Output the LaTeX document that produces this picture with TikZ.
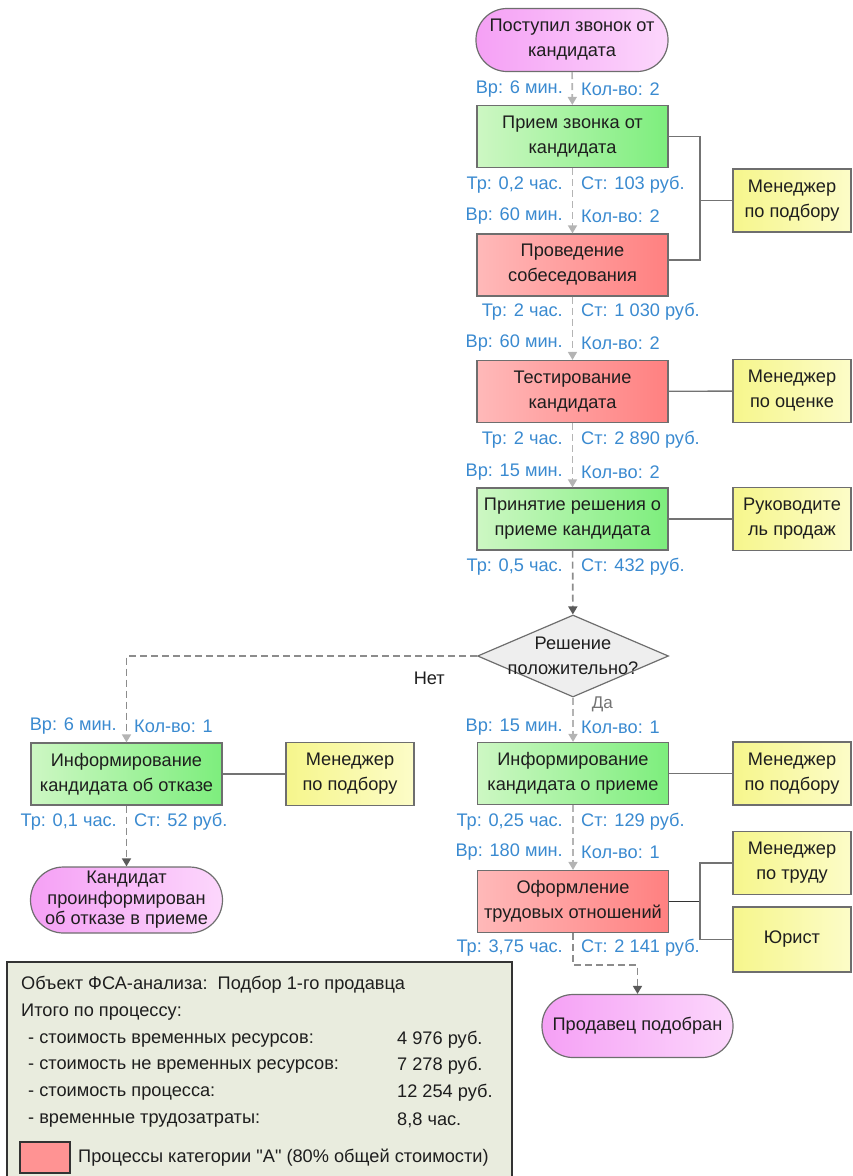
\documentclass[tikz,border=0pt]{standalone}
\usepackage{fontspec}
\setmainfont{Liberation Sans}[Ligatures=TeXOff]
\usetikzlibrary{shapes.geometric,arrows.meta}
\definecolor{lblue}{RGB}{58,138,208}
\definecolor{txt}{RGB}{30,30,30}
\definecolor{bord}{RGB}{110,110,110}
\definecolor{gL}{RGB}{205,247,195}
\definecolor{gR}{RGB}{125,238,125}
\definecolor{rL}{RGB}{255,185,185}
\definecolor{rR}{RGB}{255,128,128}
\definecolor{yL}{RGB}{246,246,140}
\definecolor{yR}{RGB}{252,252,200}
\definecolor{mL}{RGB}{245,160,245}
\definecolor{mR}{RGB}{252,215,252}
\definecolor{dgray}{RGB}{238,238,238}
\definecolor{lgbg}{RGB}{233,236,222}
\definecolor{flowc}{RGB}{180,180,180}
\definecolor{flowd}{RGB}{140,140,140}
\definecolor{tipd}{RGB}{90,90,90}
\newcommand\myfs{\fontsize{18.2}{25}\selectfont}
\tikzset{
  x=1pt, y=-1pt,
  every node/.style={text=txt, font=\myfs, inner sep=0pt},
  box/.style={draw=bord, line width=1.2pt, minimum width=191pt, minimum height=62pt, align=center},
  pgreen/.style={box, left color=gL, right color=gR},
  pred/.style={box, left color=rL, right color=rR},
  resbox/.style={box, left color=yL, right color=yR, minimum width=118pt, minimum height=63pt},
  term/.style={draw=bord, line width=1.2pt, minimum width=192pt, minimum height=63pt, rounded corners=31pt, align=center, left color=mL, right color=mR},
  decis/.style={diamond, draw=bord, line width=1.2pt, fill=dgray, minimum width=191pt, minimum height=82pt, aspect=2.3},
  labl/.style={text=lblue, anchor=east},
  labr/.style={text=lblue, anchor=west},
  flow/.style={draw=flowc, line width=1.6pt, dash pattern=on 7pt off 4pt, -{Triangle[length=8pt,width=9pt,color=flowc]}},
  flowdark/.style={draw=flowd, line width=1.6pt, dash pattern=on 7pt off 4pt, -{Triangle[length=8pt,width=9pt,color=tipd]}},
  resline/.style={draw=black!55, line width=1.4pt},
}
\begin{document}
\begin{tikzpicture}
\useasboundingbox (0,0) rectangle (852,1176);
% main column
\node[term] (start) at (572,40) {Поступил звонок от\\кандидата};
\node[pgreen] (p1) at (572.5,136.5) {Прием звонка от\\кандидата};
\node[pred] (p2) at (572.5,265) {Проведение\\собеседования};
\node[pred] (p3) at (572.5,391.5) {Тестирование\\кандидата};
\node[pgreen] (p4) at (572.5,519) {Принятие решения о\\приеме кандидата};
\node[decis] (d) at (573,656) {};
\node[align=center] (dt) at (573,656) {Решение\\положительно?};
\node[pgreen] (p5) at (573,773.5) {Информирование\\кандидата о приеме};
\node[pred] (p6) at (573,901.5) {Оформление\\трудовых отношений};
\node[term, minimum width=191pt] (e2) at (637.5,1026) {Продавец подобран};
% left branch
\node[pgreen] (q5) at (126.5,774) {Информирование\\кандидата об отказе};
\node[term, minimum height=66pt, rounded corners=33pt, font=\fontsize{18.2}{20.5}\selectfont] (e1) at (126.5,900) {Кандидат\\проинформирован\\об отказе в приеме};
% resources
\node[resbox] (r1) at (792,200.5) {Менеджер\\по подбору};
\node[resbox] (r2) at (792,391) {Менеджер\\по оценке};
\node[resbox] (r3) at (792,519) {Руководите\\ль продаж};
\node[resbox] (r4) at (792,773.5) {Менеджер\\по подбору};
\node[resbox] (r5) at (792,863) {Менеджер\\по труду};
\node[resbox, minimum height=65pt] (r6) at (792,939.5) {Юрист};
\node[resbox, minimum width=128pt] (rl) at (350,774) {Менеджер\\по подбору};
% flows
\draw[flow] (start) -- (p1);
\draw[flow] (p1) -- (p2);
\draw[flow] (p2) -- (p3);
\draw[flow] (p3) -- (p4);
\draw[flowdark] (p4) -- (d);
\draw[flow] (d.south) -- node[pos=0.16, anchor=west, xshift=18pt, text=black!55, font=\fontsize{17}{20}\selectfont] (da) {Да} (p5.north);
\draw[flowdark, -{Triangle[length=8pt,width=9pt,color=flowc]}] (d.west) -| node[pos=0.068, yshift=-22pt] (net) {Нет} (q5.north);
\draw[flow] (p5) -- (p6);
\draw[flowdark] (p6.south) -- ++(0,32) -| (e2.north);
\draw[flowdark] (q5) -- (e1);
% resource links
\coordinate (j1) at (700,200.5);
\coordinate (j2) at (700,260);
\draw[resline] (p1.east) -| (j1) -- (j2) -- (j2 -| p2.east);
\draw[resline] (j1) -- (r1.west);
\draw[resline] (p3) -- (r2);
\draw[resline] (p4) -- (r3);
\draw[resline] (p5) -- (r4);
\draw[resline] (q5) -- (rl);
\coordinate (j6) at (700,901.5);
\draw[resline, draw=black!80] (p6.east) -- (j6);
\draw[resline] (r5.west) -| (j6) |- (r6.west);
% labels
\node[labl] (a1) at (563,89) {Вр: 6 мин.};
\node[labr] (b1) at (581,89) {Кол-во: 2};
\node[labl] (c1) at (563,185) {Тр: 0,2 час.};
\node[labr] (d1) at (581,185) {Ст: 103 руб.};
\node[labl] (a2) at (563,216) {Вр: 60 мин.};
\node[labr] (b2) at (581,216) {Кол-во: 2};
\node[labl] (c2) at (563,312) {Тр: 2 час.};
\node[labr] (d2) at (581,312) {Ст: 1 030 руб.};
\node[labl] (a3) at (563,343) {Вр: 60 мин.};
\node[labr] (b3) at (581,343) {Кол-во: 2};
\node[labl] (c3) at (563,440) {Тр: 2 час.};
\node[labr] (d3) at (581,440) {Ст: 2 890 руб.};
\node[labl] (a4) at (563,472) {Вр: 15 мин.};
\node[labr] (b4) at (581,472) {Кол-во: 2};
\node[labl] (c4) at (563,567) {Тр: 0,5 час.};
\node[labr] (d4) at (581,567) {Ст: 432 руб.};
\node[labl] (a5) at (563,727) {Вр: 15 мин.};
\node[labr] (b5) at (581,727) {Кол-во: 1};
\node[labl] (c5) at (563,822) {Тр: 0,25 час.};
\node[labr] (d5) at (581,822) {Ст: 129 руб.};
\node[labl] (a6) at (563,852) {Вр: 180 мин.};
\node[labr] (b6) at (581,852) {Кол-во: 1};
\node[labl] (c6) at (563,948) {Тр: 3,75 час.};
\node[labr] (d6) at (581,948) {Ст: 2 141 руб.};
\node[labl] (la) at (117,726) {Вр: 6 мин.};
\node[labr] (lb) at (134,726) {Кол-во: 1};
\node[labl] (lc) at (117,822) {Тр: 0,1 час.};
\node[labr] (ld) at (134,822) {Ст: 52 руб.};
% legend
\draw[draw=black!80, line width=1.5pt, fill=lgbg] (7,962) rectangle (512,1190);
\node[anchor=west] (g1) at (21,985) {Объект ФСА-анализа:\ \ Подбор 1-го продавца};
\node[anchor=west] (g2) at (21,1012) {Итого по процессу:};
\node[anchor=west] (g3) at (28,1040) {- стоимость временных ресурсов:};
\node[anchor=west] (g4) at (28,1066) {- стоимость не временных ресурсов:};
\node[anchor=west] (g5) at (28,1093) {- стоимость процесса:};
\node[anchor=west] (g6) at (28,1120) {- временные трудозатраты:};
\node[anchor=west] (v3) at (397,1040) {4 976 руб.};
\node[anchor=west] (v4) at (397,1066) {7 278 руб.};
\node[anchor=west] (v5) at (397,1093) {12 254 руб.};
\node[anchor=west] (v6) at (397,1120) {8,8 час.};
\draw[draw=black!80, line width=1.3pt, fill=rR!85!white] (20,1142) rectangle (70,1173);
\node[anchor=west] (g7) at (78,1158) {Процессы категории "А" (80\% общей стоимости)};
\end{tikzpicture}
\end{document}
